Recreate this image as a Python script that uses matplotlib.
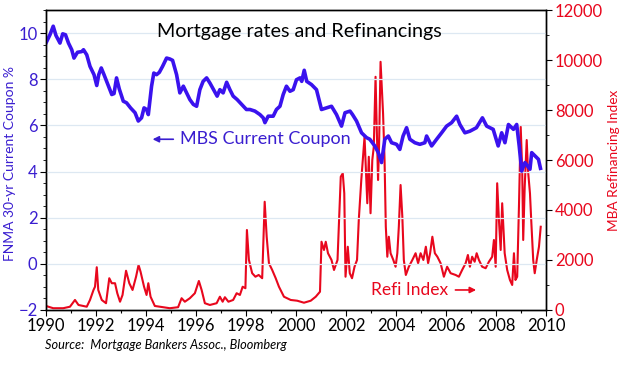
import matplotlib
matplotlib.use('Agg')
import matplotlib.pyplot as plt
from matplotlib.ticker import MultipleLocator

# FNMA 30-yr current coupon (%)
mbs_years = [1990.00, 1990.16, 1990.29, 1990.40, 1990.56, 1990.67, 1990.78, 1990.90,
             1991.03, 1991.12, 1991.26, 1991.43, 1991.50, 1991.63, 1991.76, 1991.92,
             1992.03, 1992.11, 1992.21, 1992.32, 1992.45, 1992.63, 1992.72, 1992.82,
             1992.93, 1993.09, 1993.22, 1993.38, 1993.56, 1993.69, 1993.82, 1993.92,
             1994.02, 1994.09, 1994.22, 1994.31, 1994.42, 1994.53, 1994.66, 1994.82,
             1994.95, 1995.06, 1995.22, 1995.35, 1995.49, 1995.62, 1995.75, 1995.89,
             1996.02, 1996.15, 1996.28, 1996.42, 1996.55, 1996.68, 1996.84, 1996.95,
             1997.08, 1997.22, 1997.35, 1997.48, 1997.64, 1997.82, 1998.01, 1998.15,
             1998.35, 1998.55, 1998.68, 1998.75, 1998.88, 1999.08, 1999.21, 1999.35,
             1999.48, 1999.61, 1999.75, 1999.88, 2000.01, 2000.15, 2000.22, 2000.32,
             2000.42, 2000.61, 2000.81, 2001.01, 2001.21, 2001.41, 2001.61, 2001.81,
             2001.95, 2002.15, 2002.25, 2002.41, 2002.61, 2002.81, 2002.94, 2003.14,
             2003.28, 2003.41, 2003.54, 2003.68, 2003.81, 2004.01, 2004.14, 2004.27,
             2004.41, 2004.54, 2004.74, 2004.94, 2005.14, 2005.21, 2005.41, 2005.61,
             2005.81, 2006.01, 2006.21, 2006.41, 2006.54, 2006.74, 2006.94, 2007.20,
             2007.44, 2007.61, 2007.87, 2008.07, 2008.21, 2008.34, 2008.48, 2008.68,
             2008.81, 2008.91, 2009.01, 2009.14, 2009.34, 2009.41, 2009.54, 2009.68,
             2009.76]
mbs_values = [9.57, 9.93, 10.3, 9.9, 9.57, 9.97, 9.93, 9.57,
              9.28, 8.92, 9.17, 9.2, 9.28, 9.06, 8.56, 8.2,
              7.73, 8.2, 8.49, 8.2, 7.84, 7.34, 7.38, 8.06,
              7.58, 7.05, 6.98, 6.76, 6.55, 6.19, 6.33, 6.76,
              6.69, 6.47, 7.7, 8.27, 8.2, 8.3, 8.56, 8.92,
              8.88, 8.82, 8.2, 7.41, 7.7, 7.41, 7.12, 6.91,
              6.83, 7.55, 7.91, 8.06, 7.84, 7.58, 7.27, 7.55,
              7.41, 7.87, 7.55, 7.27, 7.12, 6.91, 6.69, 6.69,
              6.62, 6.47, 6.33, 6.12, 6.4, 6.4, 6.69, 6.83,
              7.34, 7.7, 7.48, 7.55, 7.98, 8.06, 7.91, 8.39,
              7.91, 7.77, 7.55, 6.69, 6.76, 6.83, 6.47, 5.97,
              6.55, 6.62, 6.47, 6.19, 5.68, 5.47, 5.4, 5.11,
              4.82, 4.39, 5.4, 5.54, 5.25, 5.18, 4.96, 5.54,
              5.9, 5.4, 5.25, 5.18, 5.25, 5.54, 5.11, 5.4,
              5.68, 5.97, 6.12, 6.4, 6.04, 5.68, 5.75, 5.9,
              6.33, 5.97, 5.83, 5.11, 5.68, 5.25, 6.04, 5.83,
              6.04, 5.11, 4.02, 4.39, 4.1, 4.82, 4.68, 4.53,
              4.14]

# MBA refinancing index
refi_years = [1990.00, 1990.29, 1990.69, 1990.96, 1991.16, 1991.30, 1991.63, 1991.76,
              1991.90, 1991.96, 1992.03, 1992.09, 1992.23, 1992.40, 1992.53, 1992.63,
              1992.76, 1992.85, 1992.96, 1993.06, 1993.20, 1993.33, 1993.46, 1993.60,
              1993.70, 1993.78, 1993.92, 1994.02, 1994.09, 1994.18, 1994.35, 1994.55,
              1994.95, 1995.28, 1995.42, 1995.55, 1995.75, 1995.95, 1996.11, 1996.22,
              1996.35, 1996.55, 1996.82, 1996.95, 1997.06, 1997.15, 1997.29, 1997.48,
              1997.62, 1997.75, 1997.86, 1997.97, 1998.03, 1998.11, 1998.24, 1998.37,
              1998.50, 1998.64, 1998.74, 1998.82, 1998.91, 1999.04, 1999.18, 1999.31,
              1999.51, 1999.78, 2000.04, 2000.31, 2000.58, 2000.78, 2000.95, 2001.01,
              2001.11, 2001.18, 2001.27, 2001.41, 2001.51, 2001.65, 2001.78, 2001.86,
              2001.92, 2001.97, 2002.06, 2002.14, 2002.23, 2002.33, 2002.43, 2002.50,
              2002.60, 2002.67, 2002.73, 2002.78, 2002.84, 2002.90, 2002.97, 2003.04,
              2003.10, 2003.17, 2003.21, 2003.27, 2003.31, 2003.37, 2003.42, 2003.47,
              2003.53, 2003.58, 2003.64, 2003.70, 2003.77, 2003.88, 2003.97, 2004.04,
              2004.10, 2004.17, 2004.24, 2004.30, 2004.38, 2004.50, 2004.64, 2004.77,
              2004.87, 2004.97, 2005.08, 2005.18, 2005.27, 2005.35, 2005.44, 2005.54,
              2005.64, 2005.77, 2005.90, 2006.03, 2006.17, 2006.37, 2006.50, 2006.63,
              2006.77, 2006.86, 2006.94, 2007.03, 2007.13, 2007.21, 2007.30, 2007.43,
              2007.57, 2007.70, 2007.83, 2007.90, 2007.97, 2008.03, 2008.10, 2008.17,
              2008.23, 2008.33, 2008.43, 2008.54, 2008.63, 2008.70, 2008.76, 2008.83,
              2008.90, 2008.97, 2009.03, 2009.07, 2009.13, 2009.21, 2009.26, 2009.34,
              2009.39, 2009.47, 2009.53, 2009.61, 2009.70, 2009.77]
refi_values = [160, 70, 70, 130, 400, 200, 130, 400,
               800, 930, 1710, 800, 400, 270, 1270, 1070,
               1070, 670, 330, 600, 1570, 1070, 800, 1330,
               1800, 1530, 930, 600, 1070, 530, 160, 130,
               70, 110, 470, 330, 470, 670, 1160, 800,
               270, 200, 270, 530, 330, 510, 330, 400,
               670, 600, 930, 870, 3200, 2000, 1470, 1330,
               1400, 1270, 4330, 2930, 1870, 1600, 1270, 930,
               530, 400, 370, 290, 370, 530, 730, 2730,
               2400, 2730, 2270, 2000, 1600, 2000, 5330, 5470,
               4670, 1330, 2530, 1470, 1270, 1730, 2000, 3600,
               5200, 6130, 6930, 5730, 4270, 6130, 3870, 6000,
               6530, 9330, 7600, 5200, 6530, 9930, 8930, 7870,
               6000, 3330, 2130, 2930, 2270, 2000, 1730, 2270,
               3330, 5000, 3730, 2000, 1400, 1730, 2000, 2270,
               1870, 2270, 2000, 2530, 1870, 2270, 2930, 2270,
               2130, 1870, 1330, 1730, 1470, 1400, 1330, 1600,
               1870, 2200, 1730, 2130, 1930, 2270, 2000, 1730,
               1670, 1930, 2130, 2800, 1730, 5070, 3600, 2400,
               4270, 2270, 1600, 1200, 1000, 2270, 1200, 1330,
               4130, 7330, 5600, 2800, 4930, 6800, 5600, 4670,
               3600, 2000, 1470, 2000, 2530, 3330]

year_ticks = list(range(1990, 2011, 2))
left_ticks = [-2, 0, 2, 4, 6, 8, 10]
right_ticks = [0, 2000, 4000, 6000, 8000, 10000, 12000]

BLUE = '#3a12ee'
BLUE_TXT = '#3a1ed0'
RED = '#e8071d'
plt.rcParams['font.family'] = ['Lato', 'DejaVu Sans']

fig = plt.figure(figsize=(6.21, 3.73), dpi=100)
ax = fig.add_axes([0.074, 0.169, 0.806, 0.804])
ax2 = ax.twinx()

ax.set_zorder(ax2.get_zorder() + 1)
ax.patch.set_visible(False)

for v in left_ticks:
    ax.axhline(v, color='#dde8f2', lw=0.9, zorder=0)

ax2.plot(refi_years, refi_values, color=RED, lw=1.5)
ax.plot(mbs_years, mbs_values, color=BLUE, lw=2.6, solid_joinstyle='round')

ax.set_xlim(1990, 2010)
ax.set_ylim(-2, 11)
ax2.set_ylim(0, 12000)
ax.set_xticks(year_ticks)
ax.xaxis.set_minor_locator(MultipleLocator(1))
ax.set_yticks(left_ticks)
ax.yaxis.set_minor_locator(MultipleLocator(0.5))
ax2.set_yticks(right_ticks)
ax2.yaxis.set_minor_locator(MultipleLocator(1000))

ax.tick_params(axis='x', labelsize=12, length=4, width=0.8, pad=2, colors='black')
ax.tick_params(axis='x', which='minor', length=2.5, width=0.8)
ax.tick_params(axis='y', labelsize=12, length=4, width=0.8, pad=2, color='black', labelcolor=BLUE_TXT)
ax.tick_params(axis='y', which='minor', length=2, width=0.6)
ax2.tick_params(axis='y', labelsize=12, length=4, width=0.8, pad=2, color='black', labelcolor=RED)
ax2.tick_params(axis='y', which='minor', length=2.5, width=0.6)

for a in (ax, ax2):
    for s in a.spines.values():
        s.set_linewidth(1.0)
        s.set_color('black')

ax.set_ylabel('FNMA 30-yr Current Coupon %', color=BLUE_TXT, fontsize=10, labelpad=4)
ax.yaxis.set_label_coords(-0.060, 0.49)
ax2.set_ylabel('MBA Refinancing Index', color=RED, fontsize=9.8, labelpad=3)
ax2.yaxis.set_label_coords(1.122, 0.5)

ax.text(2000.11, 10.05, 'Mortgage rates and Refinancings', fontsize=14.2, ha='center', va='center')

ax.annotate('', xy=(1994.15, 5.4), xytext=(1995.2, 5.4),
            arrowprops=dict(arrowstyle='-|>', color=BLUE_TXT, lw=1.2, mutation_scale=9))
ax.text(1995.35, 5.4, 'MBS Current Coupon', color=BLUE_TXT, fontsize=13, ha='left', va='center')

ax2.text(2006.05, 800, 'Refi Index', color=RED, fontsize=12.5, ha='right', va='center')
ax2.annotate('', xy=(2007.3, 800), xytext=(2006.25, 800),
             arrowprops=dict(arrowstyle='-|>', color=RED, lw=1.2, mutation_scale=9))

fig.text(0.072, 0.075, 'Source:  Mortgage Bankers Assoc., Bloomberg', fontsize=9.2,
         style='italic', ha='left', va='center')

fig.savefig('out.png', dpi=100)
